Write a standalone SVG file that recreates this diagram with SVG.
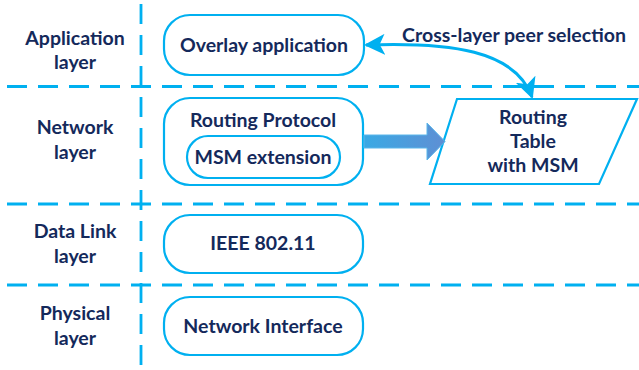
<svg xmlns="http://www.w3.org/2000/svg" width="639" height="370" viewBox="0 0 639 370">
<defs>
<style>
text{font-family:Lato,"Liberation Sans",sans-serif;font-weight:700;font-size:19.5px;fill:#14295b;text-anchor:middle}
.box{fill:#fff;stroke:#00b0f0;stroke-width:2.2}
.dash{stroke:#00b0f0;stroke-width:2.8;stroke-dasharray:20 11;fill:none}
.conn{stroke:#00b0f0;stroke-width:3;fill:none}
</style>
<linearGradient id="g" x1="0" x2="1" y1="0" y2="0">
<stop offset="0" stop-color="#3aa9e4"/>
<stop offset="1" stop-color="#5e8fd4"/>
</linearGradient>
<marker id="ah" viewBox="0 0 10 10" refX="9" refY="5" markerWidth="7" markerHeight="7" orient="auto-start-reverse" markerUnits="strokeWidth">
<path d="M0,0 L10,5 L0,10 L2.5,5 z" fill="#00b0f0"/>
</marker>
</defs>
<g id="grid">
<line class="dash" x1="141" y1="4" x2="141" y2="368"/>
<line class="dash" x1="7" y1="86.5" x2="639" y2="86.5"/>
<line class="dash" x1="7" y1="204" x2="639" y2="204"/>
<line class="dash" x1="7" y1="285" x2="639" y2="285"/>
</g>
<g id="labels">
<text x="75" y="45">Application</text>
<text x="75" y="69">layer</text>
<text x="75" y="134">Network</text>
<text x="75" y="159">layer</text>
<text x="75" y="238">Data Link</text>
<text x="75" y="263">layer</text>
<text x="75" y="320">Physical</text>
<text x="75" y="345">layer</text>
</g>
<g id="overlay">
<rect class="box" x="164" y="15" width="200" height="60" rx="26"/>
<text x="264" y="52">Overlay application</text>
</g>
<g id="routing">
<rect class="box" x="164" y="98" width="199" height="87" rx="26"/>
<text x="263" y="127">Routing Protocol</text>
</g>
<g id="msm">
<rect class="box" x="187" y="136" width="153" height="42" rx="21"/>
<text x="263" y="164">MSM extension</text>
</g>
<g id="ieee">
<rect class="box" x="164" y="215" width="199" height="58" rx="26"/>
<text x="263" y="250">IEEE 802.11</text>
</g>
<g id="netif">
<rect class="box" x="164" y="297" width="199" height="58" rx="26"/>
<text x="263" y="333">Network Interface</text>
</g>
<g id="table">
<polygon class="box" points="457,99 637,99 599,184 430,184"/>
<text x="533" y="124">Routing</text>
<text x="533" y="148">Table</text>
<text x="533" y="172">with MSM</text>
</g>
<g id="connectors">
<path class="conn" d="M366,45 C450,42 515,50 532,97" marker-start="url(#ah)" marker-end="url(#ah)"/>
<text x="514" y="42">Cross-layer peer selection</text>
<path d="M364,135 L427,135 L427,123 L445,141.5 L427,160 L427,148 L364,148 z" fill="url(#g)" stroke="#5bb6ea" stroke-width="1"/>
</g>
</svg>
